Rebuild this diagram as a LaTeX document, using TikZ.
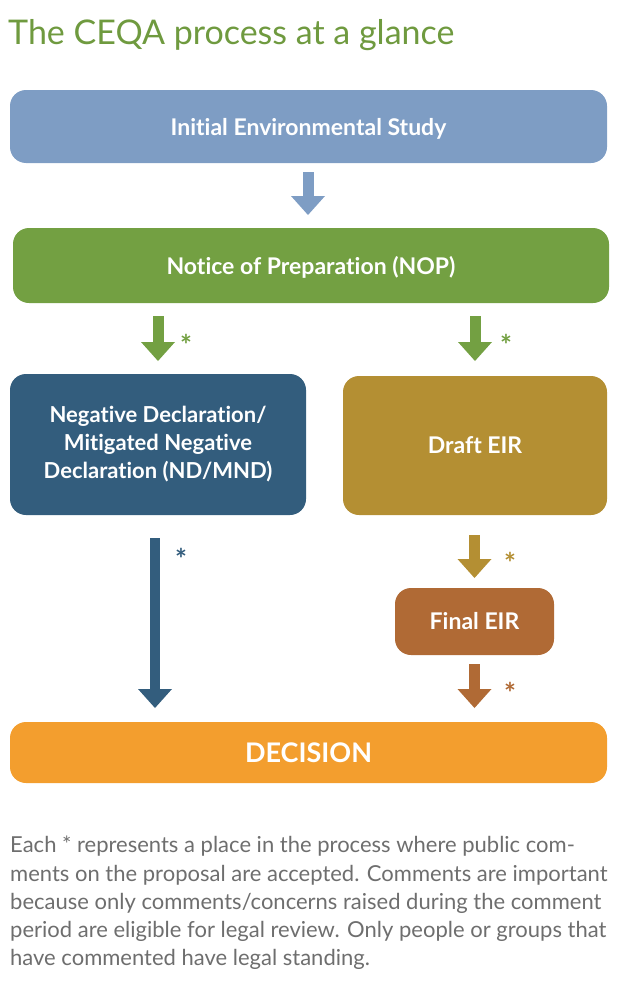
\documentclass[tikz,border=0pt]{standalone}
\usepackage{fontspec}
\setmainfont{Lato}[Ligatures=NoCommon]
\usetikzlibrary{positioning, calc, arrows.meta}

\definecolor{studyblue}{HTML}{7E9DC4}
\definecolor{nopgreen}{HTML}{73A042}
\definecolor{ndblue}{HTML}{335D7D}
\definecolor{drafttan}{HTML}{B48F33}
\definecolor{finalbrown}{HTML}{B06A35}
\definecolor{decorange}{HTML}{F39E2E}
\definecolor{titlegreen}{HTML}{6F9A3F}
\definecolor{notegray}{HTML}{6E6E6E}

\tikzset{
  stage/.style={rounded corners=16pt, inner sep=0pt, outer sep=0pt, text=white, align=center,
    font=\bfseries\fontsize{23}{28}\selectfont},
  flow/.style={line width=11pt, -{Triangle[width=34pt,length=19pt,line width=0pt]}},
  remark/.style={inner sep=0pt, anchor=north, font=\bfseries\fontsize{28}{28}\selectfont},
}

\begin{document}
\begin{tikzpicture}[x=1pt, y=-1pt]
			\useasboundingbox (0,0) rectangle (620,990);
			\node (title) [anchor=base west, inner sep=0pt, text=titlegreen, font=\fontsize{34}{40}\selectfont] at (8,45) {The CEQA process at a glance};

			\node (ies) [stage, fill=studyblue, minimum width=597pt, minimum height=73pt, text depth=0pt] at (308.5,126.5) {Initial Environmental Study};
			\node (nop) [stage, fill=nopgreen, minimum width=596pt, minimum height=75pt, text depth=0pt] at (311,265.5) {Notice of Preparation (NOP)};
			\node (nd) [stage, fill=ndblue, minimum width=296pt, minimum height=141pt, font=\bfseries\fontsize{22}{28}\selectfont] at (158,444.5) {Negative Declaration/\\Mitigated Negative\\Declaration (ND/MND)};
			\node (deir) [stage, fill=drafttan, minimum width=264pt, minimum height=139pt] at (475,445.5) {Draft EIR};
			\node (feir) [stage, fill=finalbrown, minimum width=159pt, minimum height=67pt] at (474.5,621.5) {Final EIR};
			\node (dec) [stage, fill=decorange, minimum width=597pt, minimum height=61pt, font=\bfseries\fontsize{27}{30}\selectfont] at (308.5,752.5) {DECISION};

			\draw [flow, studyblue, shorten <=9pt, shorten >=13pt] (ies.south -| 308,0) -- (nop.north -| 308,0);
			\draw [flow, nopgreen, shorten <=13pt, shorten >=13pt] (nop.south -| nd) -- (nd.north);
			\draw [flow, nopgreen, shorten <=13pt, shorten >=15pt] (nop.south -| deir) -- (deir.north);
			\draw [flow, ndblue, line width=9.5pt, shorten <=23pt, shorten >=14pt] (nd.south -| 155,0) -- (dec.north -| 155,0);
			\draw [flow, drafttan, shorten <=20pt, shorten >=10pt] (deir.south -| feir) -- (feir.north);
			\draw [flow, finalbrown, shorten <=9pt, shorten >=14pt] (feir.south) -- (dec.north -| feir);

			\node (s1) [remark, text=nopgreen] at (186,334) {*};
			\node (s2) [remark, text=nopgreen] at (506,334) {*};
			\node (s3) [remark, text=ndblue] at (181,548) {*};
			\node (s4) [remark, text=drafttan] at (510,552) {*};
			\node (s5) [remark, text=finalbrown] at (510,682) {*};

			\node (note) [anchor=north west, inner sep=0pt, align=left, text=notegray, font=\fontsize{22}{28.3}\selectfont] at (10,836) {Each * represents a place in the process where public com-\\ments on the proposal are accepted. Comments are important\\because only comments/concerns raised during the comment\\period are eligible for legal review. Only people or groups that\\have commented have legal standing.};
		\end{tikzpicture}
\end{document}
